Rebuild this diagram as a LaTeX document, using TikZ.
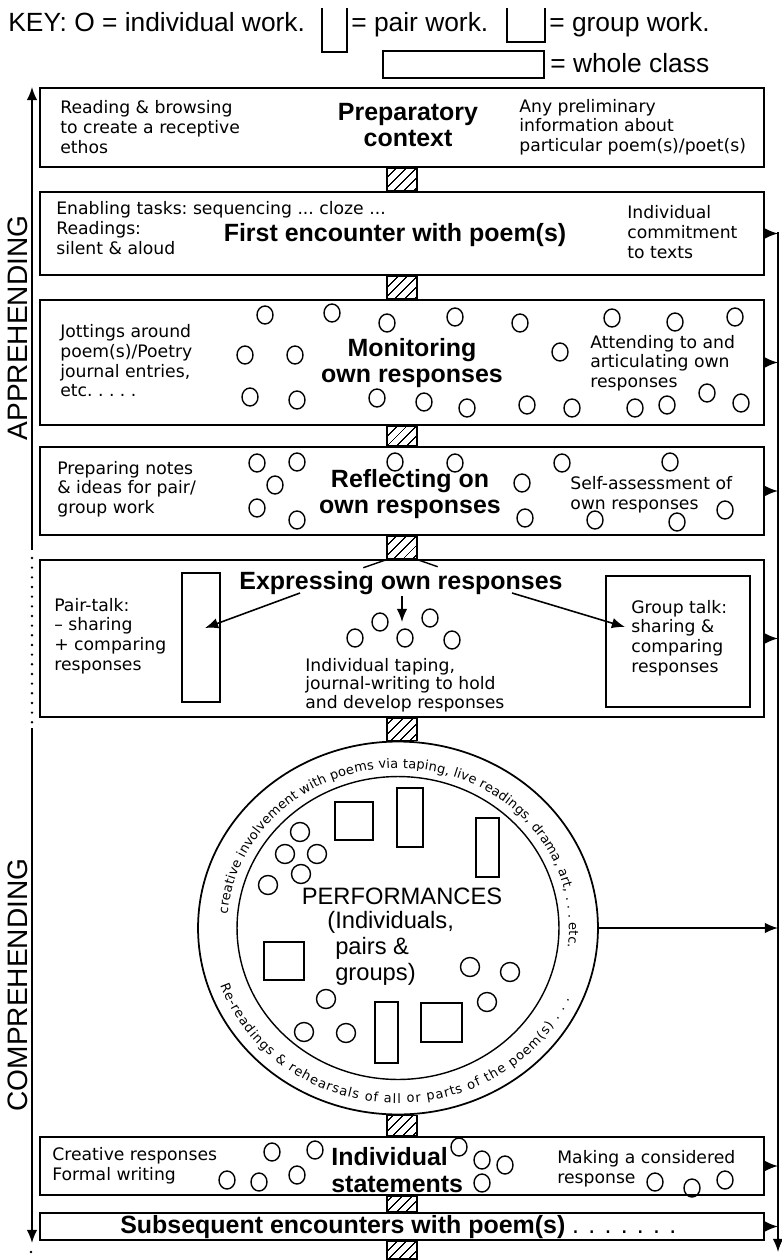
\documentclass[tikz,border=0pt]{standalone}
\usepackage{fontspec}
\setmainfont{Liberation Sans}
\newfontfamily\notefont{DejaVu Sans}
\usetikzlibrary{arrows.meta,patterns.meta,positioning,fit,shapes.geometric,decorations.text,calc}
\newcommand{\arcfont}{\notefont\fontsize{7.4}{8}\selectfont}
\tikzset{
  stagebox/.style={draw,line width=1.1pt,inner sep=0pt},
  link/.style={draw,line width=0.8pt,inner sep=0pt,pattern={Lines[angle=45,distance=4pt,line width=0.7pt]}},
  note/.style={font=\notefont\fontsize{9.8}{11.2}\selectfont\frenchspacing,align=left,inner sep=0pt,anchor=west},
  stagetitle/.style={font=\bfseries\fontsize{14.2}{15}\selectfont,align=center,inner sep=0pt},
  flow/.style={line width=0.9pt,-{Latex[length=7.5pt,width=6pt]}},
  pupil/.style={line width=0.8pt},
  keytext/.style={font=\fontsize{15}{17}\selectfont,inner sep=0pt,anchor=base west},
  axislabel/.style={font=\fontsize{16}{18}\selectfont,inner sep=0pt,rotate=90},
  dotrule/.style={line width=1.5pt,line cap=round,dash pattern=on 0pt off 5.5pt},
  perftext/.style={font=\fontsize{13.5}{14.8}\selectfont,inner sep=0pt}
}
\newcommand{\pupils}[1]{\foreach \cx/\cy in {#1}{\draw[pupil] (\cx,-\cy) ellipse [x radius=8,y radius=9];}}

\begin{document}
\begin{tikzpicture}[x=0.02cm,y=0.02cm]
\useasboundingbox (0,0) rectangle (781,-1260);
% key
\node[keytext] (keyind) at (8,-32) {KEY: O = individual work.};
\draw[line width=1pt] (322,-8) -- (322,-52) -- (347,-52) -- (347,-8);
\node[keytext] (keypair) at (351,-32) {= pair work.};
\draw[line width=1pt] (507,-8) -- (507,-42) -- (545,-42) -- (545,-8);
\node[keytext] (keygroup) at (549,-32) {= group work.};
\draw[line width=1pt] (383,-51) rectangle (544,-78);
\node[keytext] (keyclass) at (550,-73) {= whole class};

% stages
\node[stagebox,fit={(40,-88)(764,-167)}] (prep) {};
\node[stagebox,fit={(40,-192)(764,-275)}] (first) {};
\node[stagebox,fit={(40,-300)(764,-425)}] (monitor) {};
\node[stagebox,fit={(40,-447)(764,-535)}] (reflect) {};
\node[stagebox,fit={(40,-560)(764,-717)}] (express) {};
\node[draw,ellipse,line width=1pt,minimum width=8cm,minimum height=7.46cm,inner sep=0pt] (perf) at (398,-928) {};
\node[draw,ellipse,line width=0.8pt,minimum width=6.44cm,minimum height=6.06cm,inner sep=0pt] (perfin) at (398,-928) {};
\node[stagebox,fit={(40,-1137)(764,-1195)}] (statement) {};
\node[stagebox,fit={(40,-1213)(764,-1240)}] (later) {};

% hatched links
\coordinate (hl) at (387,0); \coordinate (hr) at (417,0);
\foreach \a/\b/\n in {prep/first/h1,first/monitor/h2,monitor/reflect/h3,reflect/express/h4,express/perf/h5,statement/later/h7}
  \node[link,fit={(\a.south-|hl)(\b.north-|hr)}] (\n) {};
\node[link,fit={(perf.south-|hl)(statement.north-|hr)}] (h6) {};
\node[link,fit={(later.south-|hl)(hr|-0,-1259)}] (h8) {};
\draw[line width=0.8pt] (h4.south west) -- ++(-23,-8) (h4.south east) -- ++(20,-7);

% side axes
\coordinate (appbot) at (32,-550); \coordinate (apptop) at (32,-87);
\draw[flow] (appbot) -- (apptop);
\draw[dotrule] (32,-558) -- (32,-724);
\coordinate (comtop) at (32,-728); \coordinate (combot) at (32,-1243);
\draw[flow] (comtop) -- (combot);
\fill (31,-1252) circle [radius=1.3];
\node[axislabel] (applab) at (18,-328) {APPREHENDING};
\node[axislabel] (comlab) at (18,-985) {COMPREHENDING};
\coordinate (railtop) at (778,-232); \coordinate (railbot) at (778,-1252);
\draw[flow] (railtop) -- (railbot);
\foreach \s in {first,monitor,reflect,express,perf,statement,later}
  \draw[flow] (\s.east) -- (\s.east-|railtop);

% preparatory context
\node[note] (prepL) at (60,-127) {Reading \& browsing\\to create a receptive\\ethos};
\node[stagetitle] (prepT) at (408,-125) {Preparatory\\context};
\node[note] (prepR) at (519,-127) {Any preliminary\\information about\\particular poem(s)/poet(s)};

% first encounter
\node[note] (firstL) at (56,-228) {Enabling tasks: sequencing ... cloze ...\\Readings:\\silent \& aloud};
\node[stagetitle] (firstT) at (395,-235) {First encounter with poem(s)};
\node[note] (firstR) at (627,-232) {Individual\\commitment\\to texts};

% monitoring
\node[note] (monL) at (60,-361) {Jottings around\\poem(s)/Poetry\\journal entries,\\etc. . . . .};
\node[stagetitle] (monT) at (412,-363) {Monitoring\\own responses};
\node[note] (monR) at (590,-363) {Attending to and\\articulating own\\responses};
\pupils{265/315,332/313,387/323,455/317,520/323,612/318,675/322,735/317,245/355,295/355,560/352,250/397,297/400,377/398,424/402,467/408,527/405,572/408,635/408,667/405,707/393,741/403}

% reflecting
\node[note] (refL) at (57,-489) {Preparing notes\\\& ideas for pair/\\group work};
\node[stagetitle] (refT) at (410,-494) {Reflecting on\\own responses};
\node[note] (refR) at (570,-495) {Self-assessment of\\own responses};
\pupils{257/463,297/462,275/485,257/508,297/520,395/462,455/463,522/483,562/463,525/518,595/520,670/462,677/522,725/510}

% expressing
\node[stagetitle] (expT) at (401,-583) {Expressing own responses};
\node[note] (pairL) at (54,-636) {Pair-talk:\\– sharing\\+ comparing\\responses};
\node[draw,pupil,fit={(182,-573)(220,-702)},inner sep=0pt] (pairrect) {};
\node[draw,pupil,fit={(606,-576)(750,-707)},inner sep=0pt] (groupbox) {};
\node[note] (groupT) at (631,-638) {Group talk:\\sharing \&\\comparing\\responses};
\node[note,font=\notefont\fontsize{9.8}{10.6}\selectfont] (tapeT) at (305,-685) {Individual taping,\\journal-writing to hold\\and develop responses};
\pupils{355/638,380/622,405/638,430/618,452/640}
\coordinate (exL) at (300,-593); \coordinate (exM) at (402,-596); \coordinate (exR) at (512,-593);
\coordinate (pairtip) at (205,-628); \coordinate (tapetip) at (402,-622); \coordinate (grouptip) at (625,-627);
\draw[flow] (exL) -- (pairtip);
\draw[flow] (exM) -- (tapetip);
\draw[flow] (exR) -- (grouptip);

% performances
\path[decorate,decoration={text along path,text align=fit to path,text={|\arcfont|creative involvement with poems via taping, live readings, drama, art, . . . etc.}}]
  (perf.center) ++(175:171 and 160) arc[start angle=175,end angle=-7,x radius=171,y radius=160];
\path[decorate,decoration={text along path,text align=fit to path,text={|\arcfont|Re-readings {\&} rehearsals of all or parts of the poem(s) . . .}}]
  (perf.center) ++(199:188 and 175) arc[start angle=199,end angle=336,x radius=188,y radius=175];
\node[perftext] (perfT) at (402,-896) {PERFORMANCES};
\node[perftext,align=left,anchor=north west] (perfS) at (327,-911) {(Individuals,\\\phantom{(}pairs \&\\\phantom{(}groups)};
\foreach \xa/\ya/\xb/\yb in {335/802/373/840,264/942/304/980,421/1003/462/1042,397/788/423/847,476/818/499/877,375/1002/398/1063}
  \draw[pupil] (\xa,-\ya) rectangle (\xb,-\yb);
\foreach \cx/\cy in {300/832,285/854,317/854,301/874,268/885,470/967,510/972,487/1002,326/999,304/1032,346/1033}
  \draw[pupil] (\cx,-\cy) circle [radius=9.5];

% individual statements
\node[note] (statL) at (52,-1166) {Creative responses\\Formal writing};
\node[stagetitle,align=left,anchor=west] (statT) at (331,-1170) {Individual\\statements};
\node[note] (statR) at (557,-1169) {Making a considered\\response};
\pupils{272/1152,315/1150,227/1180,259/1182,297/1175,459/1147,482/1160,505/1165,482/1183,655/1182,692/1188,725/1180}

% subsequent encounters
\node[stagetitle,anchor=west] (laterT) at (120,-1227) {Subsequent encounters with poem(s){\mdseries\ . . . . . . .}};
\end{tikzpicture}
\end{document}
